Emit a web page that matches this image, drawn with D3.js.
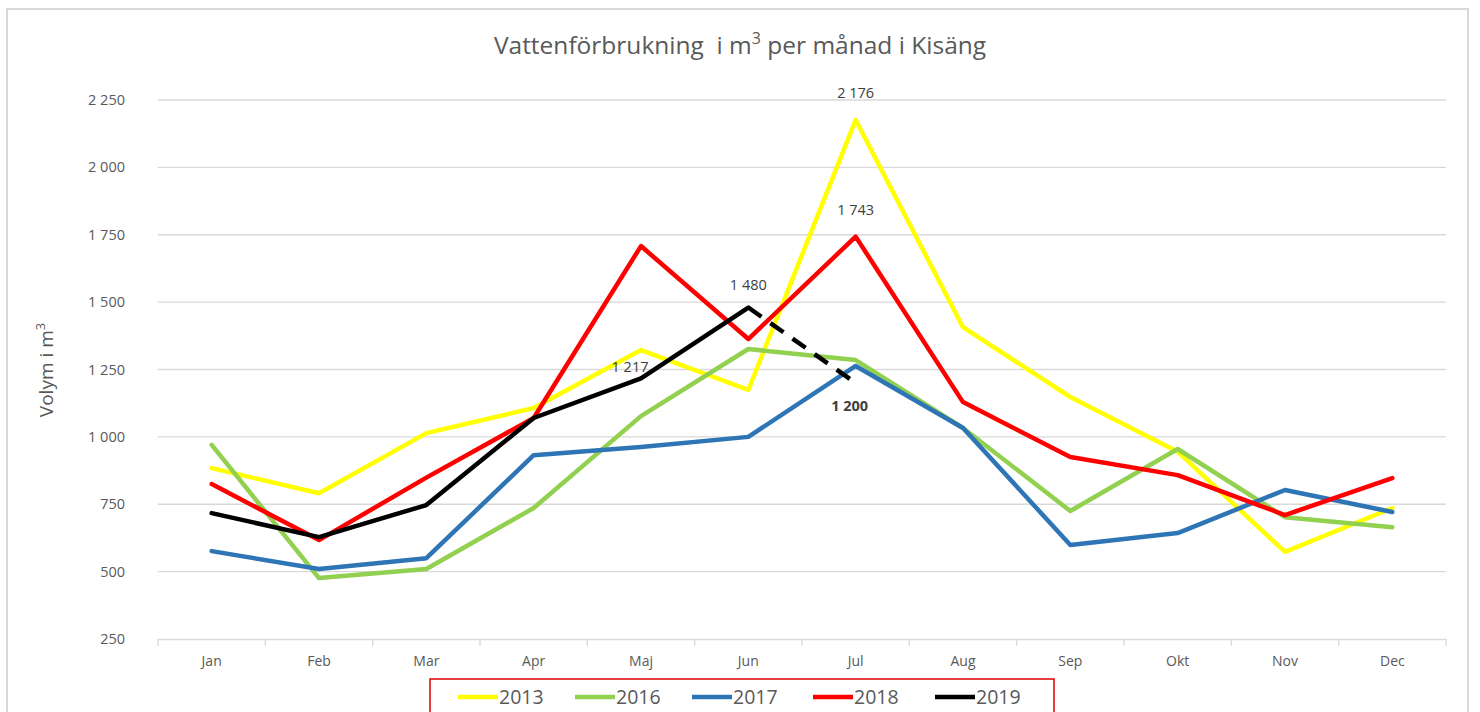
<!DOCTYPE html>
<html><head><meta charset="utf-8">
<script src="https://cdn.jsdelivr.net/npm/d3@7"></script>
<style>html,body{margin:0;padding:0;background:#fff;}svg{display:block;}</style>
</head><body>
<svg id="c" width="1480" height="712"></svg>
<script>
const months = ["Jan","Feb","Mar","Apr","Maj","Jun","Jul","Aug","Sep","Okt","Nov","Dec"];
const yTicks = [250,500,750,1000,1250,1500,1750,2000,2250];
const years = ["2013","2016","2017","2018","2019"];
const colors = ["#FFFF00","#92D050","#2E75B6","#FF0000","#000000"];
const v2013 = [884,791,1014,1107,1322,1174,2176,1407,1148,945,573,736];
const v2016 = [970,476,510,736,1077,1326,1285,1033,725,955,702,665];
const v2017 = [576,510,550,932,962,1000,1263,1033,599,643,803,721];
const v2018 = [825,617,849,1070,1708,1363,1743,1129,925,858,710,847];
const v2019 = [717,628,747,1070,1217,1480,1200];
const series = [v2013,v2016,v2017,v2018,v2019];
const dataLabels = [
  {s:0, i:6, text:"2 176"},
  {s:3, i:6, text:"1 743"},
  {s:4, i:5, text:"1 480"},
  {s:4, i:4, text:"1 217"},
  {s:4, i:6, text:"1 200"}
];

const svg = d3.select("#c");
const font = "'Open Sans', 'Liberation Sans', sans-serif";
const L = 158, R = 1446, T = 100, B = 639;

// outer border
svg.append("rect").attr("x",7).attr("y",9).attr("width",1461).attr("height",720)
  .attr("fill","#fff").attr("stroke","#d9d9d9").attr("stroke-width",2);

const x = d3.scaleBand().domain(months).range([L,R]).padding(0);
const y = d3.scaleLinear().domain([250,2250]).range([B,T]);
const cx = m => x(m) + x.bandwidth()/2;
const loc = d3.formatLocale({decimal:",",thousands:"\u00a0",grouping:[3],currency:["","kr"]});
const fmt = loc.format(",d");

// gridlines
svg.append("g").selectAll("line").data(yTicks.filter(d=>d>250)).join("line")
  .attr("x1",L).attr("x2",R).attr("y1",d=>y(d)).attr("y2",d=>y(d))
  .attr("stroke","#d9d9d9").attr("stroke-width",1.3);

// y tick labels
svg.append("g").selectAll("text").data(yTicks).join("text")
  .attr("x",125).attr("y",d=>y(d)).attr("dy","0.35em").attr("text-anchor","end")
  .attr("font-family",font).attr("font-size",14.5).attr("fill","#595959")
  .text(d=>fmt(d));

// x axis
const xAxis = d3.axisBottom(x).tickSize(0).tickPadding(12);
const gx = svg.append("g").attr("transform",`translate(0,${B})`).call(xAxis);
gx.select(".domain").attr("stroke","#d9d9d9").attr("stroke-width",1.3);
gx.selectAll("text").attr("font-family",font).attr("font-size",14).attr("fill","#595959").attr("dy","1.1em");
// category boundary ticks
const bounds = months.map(m=>x(m)).concat([R]);
svg.append("g").selectAll("line").data(bounds).join("line")
  .attr("x1",d=>d).attr("x2",d=>d).attr("y1",B).attr("y2",B+7)
  .attr("stroke","#d9d9d9").attr("stroke-width",1.3);

// y label
svg.append("text").attr("transform","translate(53,370) rotate(-90)")
  .attr("text-anchor","middle").attr("font-family",font).attr("font-size",19).attr("fill","#595959")
  .html("Volym i m<tspan dy='-8' font-size='13'>3</tspan>");

// title
svg.append("text").attr("x",740).attr("y",54).attr("text-anchor","middle")
  .attr("font-family",font).attr("font-size",24.5).attr("fill","#595959")
  .html("Vattenförbrukning&#160; i m<tspan dy='-10' font-size='16'>3</tspan><tspan dy='10'> per månad i Kisäng</tspan>");

// lines
const line = d3.line().x((d,i)=>cx(months[i])).y(d=>y(d));
series.forEach((vals,si)=>{
  let solid = vals;
  if (si===4) solid = vals.slice(0,6);
  svg.append("path").datum(solid).attr("d",line).attr("fill","none")
    .attr("stroke",colors[si]).attr("stroke-width",4.5).attr("stroke-linejoin","round").attr("stroke-linecap","round");
  if (si===4) {
    const seg = vals.slice(5,7);
    svg.append("path").datum(seg)
      .attr("d",d3.line().x((d,i)=>cx(months[5+i])).y(d=>y(d)))
      .attr("fill","none").attr("stroke",colors[si]).attr("stroke-width",4.5)
      .attr("stroke-dasharray","16,11");
  }
});

// data labels
const dlPos = {"2 176":[0,-22,"middle","normal"],"1 743":[0,-22,"middle","normal"],
  "1 480":[0,-18,"middle","normal"],"1 217":[-11,-6,"middle","normal"],"1 200":[-6,28,"middle","bold"]};
dataLabels.forEach(d=>{
  const p = dlPos[d.text];
  svg.append("text").attr("x",cx(months[d.i])+p[0]).attr("y",y(series[d.s][d.i])+p[1])
    .attr("text-anchor",p[2]).attr("font-weight",p[3])
    .attr("font-family",font).attr("font-size",14.5).attr("fill","#404040").text(d.text);
});

// legend
svg.append("rect").attr("x",430).attr("y",679).attr("width",624).attr("height",50)
  .attr("fill","#fff").attr("stroke","#e00000").attr("stroke-width",1.5);
const legX = [458,575,692,813,935];
years.forEach((yr,i)=>{
  svg.append("line").attr("x1",legX[i]).attr("x2",legX[i]+40).attr("y1",697).attr("y2",697)
    .attr("stroke",colors[i]).attr("stroke-width",4.5);
  svg.append("text").attr("x",legX[i]+41).attr("y",697).attr("dy","0.36em")
    .attr("font-family",font).attr("font-size",19.5).attr("fill","#595959").text(yr);
});
</script>
</body></html>
